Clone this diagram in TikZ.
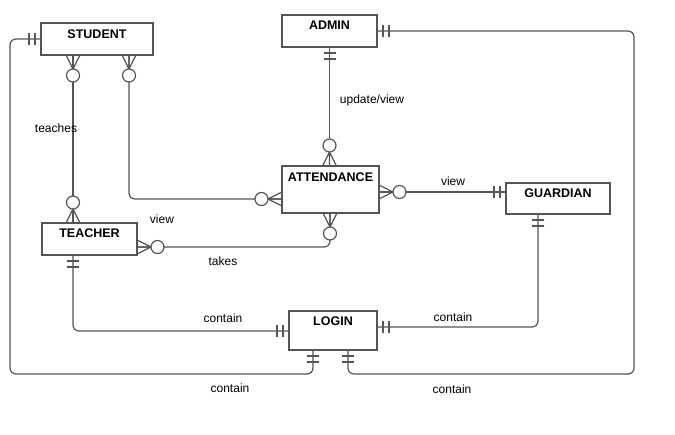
\documentclass[tikz,border=0pt]{standalone}
\usepackage{fontspec}
\setmainfont{Liberation Sans}
\usetikzlibrary{calc}
\definecolor{lc}{RGB}{85,85,85}
\tikzset{
  entity/.style={draw=lc, line width=1.2pt, fill=white, rectangle, inner sep=0pt, outer sep=0pt},
  etext/.style={font=\fontsize{12.5}{14}\selectfont\bfseries, inner sep=0pt, text=black},
  lbl/.style={font=\fontsize{12}{14}\selectfont, inner sep=0pt, text=black},
  conn/.style={draw=lc, line width=1.2pt},
  zmany/.pic={\draw[conn] (14,0)--(0,7) (14,0)--(0,0) (14,0)--(0,-7);
              \draw[conn,fill=white] (20.5,0) circle[radius=6.5];},
  oone/.pic={\draw[conn] (6,-6)--(6,6) (12,-6)--(12,6);}
}
\begin{document}
\begin{tikzpicture}[x=1pt,y=-1pt]
\useasboundingbox[fill=white] (0,0) rectangle (675,435);
% entities
\node[entity, minimum width=112pt, minimum height=32pt] (student) at (97,39) {};
\node[entity, minimum width=95pt, minimum height=32pt] (admin) at (329.5,31) {};
\node[entity, minimum width=97pt, minimum height=47pt] (attendance) at (330.5,189.5) {};
\node[entity, minimum width=104pt, minimum height=31pt] (guardian) at (558,198.5) {};
\node[entity, minimum width=95pt, minimum height=32pt] (teacher) at (89.5,239) {};
\node[entity, minimum width=88pt, minimum height=39pt] (login) at (333,330.5) {};
\node[etext] (student-t) at ([yshift=-11pt]student.north) {STUDENT};
\node[etext] (admin-t) at ([yshift=-10pt]admin.north) {ADMIN};
\node[etext] (attendance-t) at ([yshift=-11pt]attendance.north) {ATTENDANCE};
\node[etext] (guardian-t) at ([yshift=-10pt]guardian.north) {GUARDIAN};
\node[etext] (teacher-t) at ([yshift=-10pt]teacher.north) {TEACHER};
\node[etext] (login-t) at ([yshift=-10.5pt]login.north) {LOGIN};
% connection points
\coordinate (sA) at ([xshift=32pt]student.south west);
\coordinate (sB) at ([xshift=88pt]student.south west);
\coordinate (tN) at (sA |- teacher.north);
\coordinate (aW) at ([yshift=-9.5pt]attendance.west);
\coordinate (aN) at (admin.south |- attendance.north);
\coordinate (aE) at ([yshift=-2.5pt]attendance.east);
\coordinate (gW) at (aE -| guardian.west);
\coordinate (tE) at ([yshift=-8pt]teacher.east);
\coordinate (aS) at ([xshift=-0.5pt]attendance.south);
\coordinate (tS) at ([xshift=31pt]teacher.south west);
\coordinate (lW) at ([yshift=-0.5pt]login.west);
\coordinate (gS) at ([xshift=32pt]guardian.south west);
\coordinate (lE) at ([yshift=3.5pt]login.east);
\coordinate (lS1) at ([xshift=-20pt]login.south);
\coordinate (lS2) at ([xshift=15pt]login.south);
\coordinate (wpL) at (10,374);
\coordinate (wpR) at (634,374);
% connectors
\draw[conn] (sA) -- (tN);
\draw[conn, rounded corners=6pt] (sB) |- (aW);
\draw[conn] (admin.south) -- (aN);
\draw[conn] (aE) -- (gW);
\draw[conn, rounded corners=6pt] (tE) -| (aS);
\draw[conn, rounded corners=6pt] (tS) |- (lW);
\draw[conn, rounded corners=6pt] (gS) |- (lE);
\draw[conn, rounded corners=6pt] (student.west) -| (wpL) -| (lS1);
\draw[conn, rounded corners=6pt] (admin.east) -| (wpR) -| (lS2);
% markers
\pic[rotate=-90] at (sA) {zmany};
\pic[rotate=90] at (tN) {zmany};
\pic[rotate=-90] at (sB) {zmany};
\pic[rotate=180] at (aW) {zmany};
\pic[rotate=-90] at (admin.south) {oone};
\pic[rotate=90] at (aN) {zmany};
\pic at (aE) {zmany};
\pic[rotate=180] at (gW) {oone};
\pic at (tE) {zmany};
\pic[rotate=-90] at (aS) {zmany};
\pic[rotate=-90] at (tS) {oone};
\pic[rotate=180] at (lW) {oone};
\pic[rotate=-90] at (gS) {oone};
\pic at (lE) {oone};
\pic[rotate=180] at (student.west) {oone};
\pic[rotate=-90] at (lS1) {oone};
\pic at (admin.east) {oone};
\pic[rotate=-90] at (lS2) {oone};
% labels
\node[lbl] (l-teaches) at (56,128) {teaches};
\node[lbl] (l-update) at (372,100) {update/view};
\node[lbl] (l-view1) at (453,181) {view};
\node[lbl] (l-view2) at (162,219) {view};
\node[lbl] (l-takes) at (223,261) {takes};
\node[lbl] (l-c1) at (223,318) {contain};
\node[lbl] (l-c2) at (453,317) {contain};
\node[lbl] (l-c3) at (230,388) {contain};
\node[lbl] (l-c4) at (452,389) {contain};
\end{tikzpicture}
\end{document}
